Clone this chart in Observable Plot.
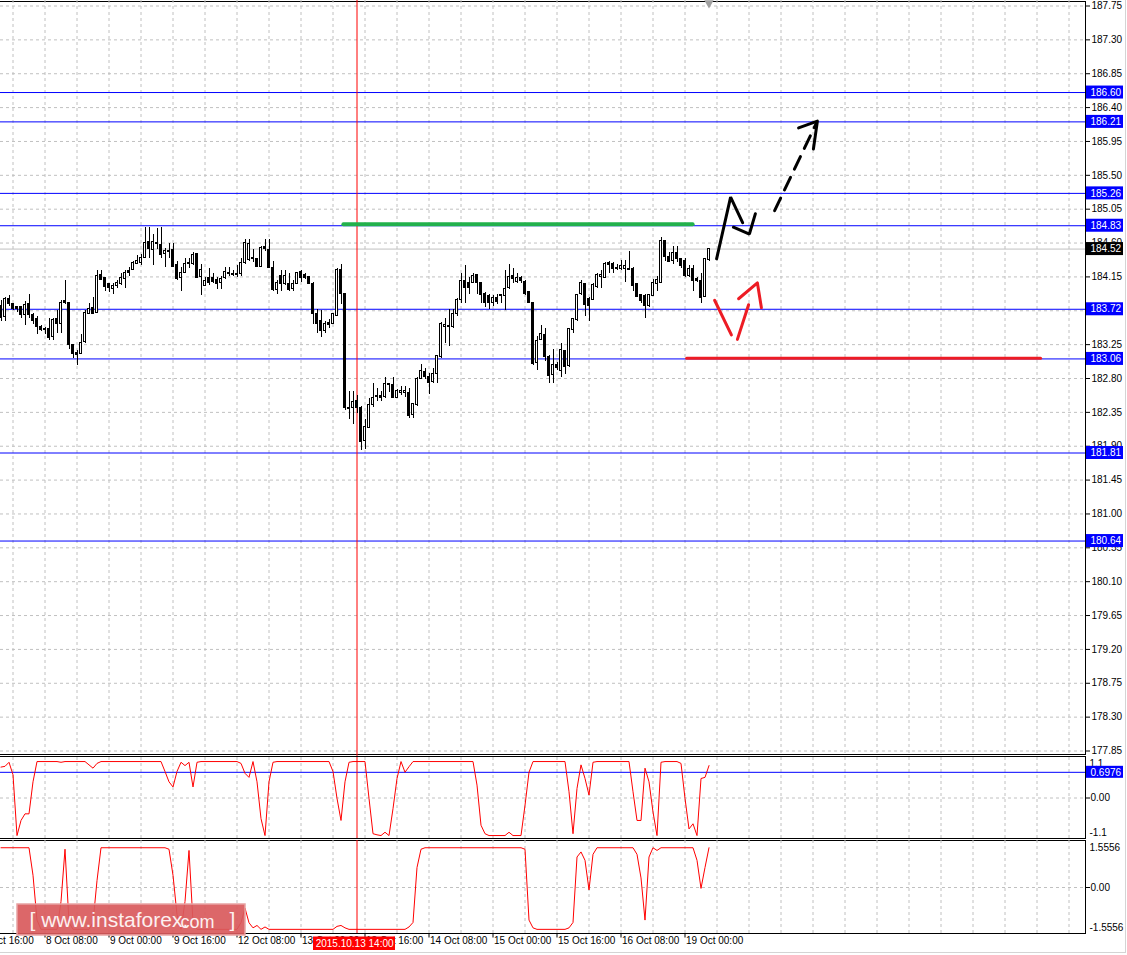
<!DOCTYPE html>
<html>
<head>
<meta charset="utf-8">
<script src="https://cdn.jsdelivr.net/npm/d3@7"></script>
<script src="https://cdn.jsdelivr.net/npm/@observablehq/plot@0.6"></script>
<style>
html,body{margin:0;padding:0;background:#fff;}
#wrap{position:relative;width:1127px;height:955px;overflow:hidden;background:#fff;}
.fr{position:absolute;border:1px solid #000;box-sizing:content-box;}
.pl{position:absolute;left:0;}
.pl svg{display:block;}
</style>
</head>
<body>
<div id="wrap">
  <div class="fr" style="left:-1px;top:1px;width:1085px;height:752px;"></div>
  <div class="fr" style="left:-1px;top:756px;width:1085px;height:81px;"></div>
  <div class="fr" style="left:-1px;top:840px;width:1085px;height:92px;"></div>
  <div style="position:absolute;left:1125px;top:0;width:1px;height:953px;background:#d4d4d4"></div>
  <div style="position:absolute;left:0;top:952px;width:1126px;height:1px;background:#d4d4d4"></div>
  <div class="pl" id="p0" style="top:0"></div>
  <div class="pl" id="p1" style="top:756px"></div>
  <div class="pl" id="p2" style="top:839px"></div>
</div>
<script>
// ---------- DATA (GBP/JPY H1, 7 Oct 21:00 .. 19 Oct 06:00) ----------
const opens = [
183.76,183.62,183.86,183.79,183.75,183.75,183.64,183.79,183.64,183.59,
183.48,183.46,183.46,183.35,183.59,183.52,183.83,183.80,183.25,183.14,
183.13,183.29,183.66,183.74,183.67,184.18,184.14,184.06,183.99,184.03,
184.06,184.12,184.23,184.24,184.32,184.34,184.40,184.61,184.51,184.60,
184.57,184.45,184.48,184.51,184.31,184.14,184.20,184.32,184.32,184.45,
184.15,184.03,184.14,184.14,184.11,184.07,184.14,184.20,184.19,184.18,
184.19,184.34,184.37,184.40,184.39,184.28,184.55,184.51,184.27,183.98,
184.16,184.06,184.06,183.99,184.06,184.22,184.18,184.15,184.06,183.66,
183.56,183.43,183.54,183.52,183.63,184.24,183.92,182.41,182.41,182.50,
182.41,181.97,182.14,182.45,182.57,182.57,182.55,182.73,182.71,182.54,
182.61,182.61,182.61,182.31,182.45,182.79,182.89,182.82,182.75,182.86,
183.09,183.48,183.50,183.48,183.66,183.84,184.10,184.07,184.07,184.18,
184.07,183.92,183.90,183.80,183.87,183.90,183.90,184.00,184.16,184.08,
184.14,184.08,183.95,183.80,183.01,183.31,183.38,183.09,182.85,182.98,
182.90,183.17,182.97,183.44,183.58,183.92,184.06,183.86,183.84,184.02,
184.15,184.14,184.34,184.32,184.27,184.26,184.26,184.26,184.26,184.06,
183.91,183.90,183.76,183.90,184.06,184.07,184.63,184.41,184.36,184.47,
184.39,184.36,184.16,184.26,184.12,184.10,183.88,184.37];
const highs = [
183.83,183.88,183.90,183.80,183.76,183.76,183.82,183.92,183.66,183.62,
183.50,183.48,183.60,183.60,183.70,183.83,184.10,183.80,183.25,183.17,
183.39,183.70,183.80,183.87,184.23,184.24,184.14,184.06,184.06,184.10,
184.20,184.23,184.27,184.36,184.43,184.45,184.80,184.80,184.72,184.79,
184.80,184.53,184.60,184.60,184.36,184.27,184.40,184.40,184.47,184.46,
184.32,184.14,184.26,184.20,184.14,184.16,184.28,184.27,184.23,184.30,
184.40,184.65,184.65,184.52,184.40,184.56,184.65,184.65,184.36,184.10,
184.23,184.23,184.19,184.10,184.20,184.23,184.19,184.16,184.07,183.72,
183.70,183.56,183.59,183.66,184.26,184.32,183.92,182.63,182.63,182.57,
182.43,182.26,182.54,182.74,182.67,182.63,182.81,182.74,182.81,182.66,
182.69,182.69,182.67,182.47,182.81,182.98,182.93,182.86,182.93,183.10,
183.55,183.60,183.72,183.72,183.86,184.19,184.30,184.14,184.19,184.18,
184.07,183.94,183.92,183.90,183.92,183.92,184.23,184.32,184.26,184.19,
184.16,184.10,183.96,183.80,183.36,183.50,183.46,183.10,183.18,183.01,
183.26,183.17,183.47,183.60,183.92,184.10,184.06,183.87,184.06,184.20,
184.23,184.34,184.36,184.34,184.32,184.37,184.37,184.49,184.27,184.06,
183.92,183.92,183.92,184.12,184.15,184.68,184.63,184.47,184.56,184.56,
184.40,184.39,184.30,184.30,184.14,184.19,184.40,184.52];
const lows = [
183.56,183.56,183.76,183.70,183.68,183.60,183.50,183.60,183.52,183.39,
183.43,183.39,183.30,183.31,183.40,183.40,183.79,183.19,183.07,182.97,
183.13,183.27,183.66,183.66,183.66,184.11,183.96,183.94,183.92,184.00,
184.03,183.99,184.16,184.23,184.32,184.30,184.40,184.40,184.30,184.51,
184.40,184.27,184.39,184.27,184.10,183.95,184.19,184.26,184.30,184.13,
183.90,184.02,184.03,184.06,183.98,183.98,184.12,184.16,184.16,184.14,
184.16,184.32,184.36,184.34,184.27,184.27,184.49,184.27,183.96,183.91,
183.96,184.03,183.96,183.96,184.06,184.07,184.12,184.06,183.52,183.40,
183.35,183.40,183.47,183.52,183.63,183.79,182.37,182.26,182.19,182.34,
181.84,181.86,182.13,182.41,182.50,182.50,182.54,182.61,182.53,182.53,
182.58,182.55,182.27,182.27,182.43,182.79,182.79,182.59,182.74,182.73,
183.07,183.26,183.23,183.47,183.63,183.80,183.80,183.92,184.06,183.92,
183.80,183.74,183.72,183.76,183.79,183.80,183.70,183.98,184.06,184.06,
184.06,183.90,183.80,182.97,182.90,183.30,183.03,182.73,182.73,182.90,
182.81,182.85,182.94,183.40,183.56,183.90,183.63,183.56,183.83,184.00,
184.00,184.14,184.20,184.20,184.23,184.23,184.07,184.23,183.96,183.87,
183.80,183.60,183.74,183.90,183.96,184.06,184.36,184.34,184.32,184.34,
184.26,184.14,184.14,183.96,184.07,183.80,183.87,184.36];
const closes = [
183.60,183.86,183.79,183.72,183.72,183.64,183.78,183.64,183.56,183.48,
183.44,183.44,183.34,183.58,183.52,183.80,183.80,183.25,183.13,183.11,
183.27,183.67,183.72,183.66,184.16,184.11,184.02,184.00,184.03,184.07,
184.14,184.20,184.20,184.34,184.36,184.40,184.60,184.52,184.61,184.59,
184.44,184.49,184.49,184.28,184.12,184.20,184.32,184.34,184.44,184.14,
184.24,184.10,184.07,184.08,184.06,184.12,184.22,184.19,184.18,184.19,
184.34,184.60,184.59,184.39,184.28,184.53,184.52,184.27,183.98,184.07,
184.06,184.16,183.98,184.06,184.20,184.14,184.14,184.06,183.66,183.52,
183.43,183.52,183.51,183.66,184.24,183.92,182.41,182.39,182.49,182.41,
181.96,182.15,182.45,182.54,182.55,182.54,182.73,182.71,182.54,182.63,
182.63,182.63,182.30,182.46,182.79,182.90,182.82,182.74,182.86,183.10,
183.52,183.51,183.48,183.66,183.84,184.10,184.00,184.00,184.16,184.07,
183.91,183.80,183.80,183.87,183.82,183.91,183.99,184.15,184.12,184.14,
184.10,183.92,183.80,182.99,183.30,183.39,183.09,182.83,182.98,182.94,
183.18,182.95,183.46,183.59,183.91,184.07,183.78,183.76,184.04,184.18,
184.18,184.32,184.31,184.26,184.26,184.30,184.30,184.24,184.03,183.88,
183.83,183.76,183.91,184.07,184.11,184.63,184.41,184.35,184.47,184.39,
184.30,184.16,184.26,184.10,184.10,183.87,184.39,184.52];

// indicator 1 (upper sub-window), one value per bar
const ind1 = [
0.84,0.86,0.97,0.63,-1.02,-0.61,-0.43,-0.43,0.44,0.99,
0.99,0.99,0.99,0.99,0.99,0.97,0.99,0.99,0.99,0.99,
0.99,0.99,0.90,0.81,0.94,0.99,0.99,0.99,0.99,0.99,
0.99,0.99,0.99,0.99,0.99,0.99,0.99,0.99,0.99,0.99,
0.99,0.72,0.44,0.30,0.72,0.97,0.88,0.97,0.30,0.97,
0.99,0.99,0.99,0.99,0.99,0.99,0.99,0.99,0.99,0.99,
0.94,0.67,0.56,0.99,0.44,-0.56,-1.02,0.44,0.97,0.99,
0.99,0.99,0.99,0.99,0.99,0.99,0.99,0.99,0.99,0.99,
0.99,0.99,0.99,0.72,-0.01,-0.61,0.44,0.97,0.99,0.99,
0.99,0.99,-0.01,-0.97,-1.00,-1.02,-0.93,-1.02,-0.29,0.53,
0.99,0.70,0.85,0.99,0.99,0.99,0.99,0.99,0.99,0.99,
0.99,0.99,0.99,0.99,0.99,0.99,0.99,0.99,0.99,0.35,
-0.74,-0.97,-1.02,-1.02,-1.02,-1.02,-1.02,-0.93,-1.02,-1.02,
-1.02,-0.20,0.70,0.99,0.99,0.99,0.99,0.99,0.99,0.99,
0.99,0.99,0.17,-0.97,0.26,0.90,0.53,0.08,0.97,0.99,
0.99,0.99,0.99,0.99,0.99,0.99,0.99,0.99,0.17,-0.61,
-0.61,0.81,0.44,-0.38,-1.02,0.97,0.99,0.99,0.99,0.99,
0.94,-0.01,-0.84,-0.70,-1.02,0.53,0.56,0.88];
// indicator 2 (lower sub-window)
const ind2 = [
1.33,1.33,1.33,1.33,1.33,1.33,1.33,1.33,0.41,-1.09,
-1.40,-1.40,-1.40,-1.40,-1.40,-0.47,1.28,-1.17,-1.40,-1.40,
-1.40,-1.40,-1.40,-1.17,0.23,1.33,1.33,1.33,1.33,1.33,
1.33,1.33,1.33,1.33,1.33,1.33,1.33,1.33,1.33,1.33,
1.33,1.33,1.28,0.41,-0.91,-1.40,-0.47,1.24,-1.17,-1.40,
-1.40,-1.40,-1.40,-1.40,-1.40,-1.40,-1.40,-1.40,-1.40,-1.40,
-1.17,-0.69,-1.18,-1.35,-1.27,-1.40,-1.32,-1.40,-1.40,-1.40,
-1.40,-1.40,-1.40,-1.40,-1.40,-1.40,-1.40,-1.40,-1.40,-1.40,
-1.40,-1.40,-1.40,-1.40,-1.30,-1.27,-1.35,-1.40,-1.40,-1.40,
-1.40,-1.40,-1.40,-1.40,-1.40,-1.40,-1.40,-1.40,-1.40,-1.40,
-1.40,-1.40,-1.32,-1.17,0.67,1.28,1.33,1.33,1.33,1.33,
1.33,1.33,1.33,1.33,1.33,1.33,1.33,1.33,1.33,1.33,
1.33,1.33,1.33,1.33,1.33,1.33,1.33,1.33,1.33,1.33,
1.33,1.28,-1.09,-1.35,-1.40,-1.40,-1.40,-1.40,-1.40,-1.40,
-1.40,-1.40,-1.35,-1.17,1.02,1.19,0.91,-0.08,1.11,1.33,
1.33,1.33,1.33,1.33,1.33,1.33,1.33,1.33,1.33,1.11,
0.32,-1.09,1.02,1.33,1.24,1.33,1.33,1.33,1.33,1.33,
1.33,1.33,1.33,1.33,0.91,-0.03,0.67,1.33];

const priceTicks = [187.75,187.30,186.85,186.40,185.95,185.50,185.05,184.60,184.15,183.70,183.25,182.80,182.35,181.90,181.45,181.00,180.55,180.10,179.65,179.20,178.75,178.30,177.85];
const levelPrices = [186.60,186.21,185.26,184.83,183.72,183.06,181.81,180.64];
const bidPrice = 184.52;
const timeTickIdx = [-5,11,27,43,59,75,91,107,123,139,155,171];
const timeTickLabels = ["7 Oct 16:00","8 Oct 08:00","9 Oct 00:00","9 Oct 16:00","12 Oct 08:00","13 Oct 00:00","13 Oct 16:00","14 Oct 08:00","15 Oct 00:00","15 Oct 16:00","16 Oct 08:00","19 Oct 00:00"];
const cursorIdx = 89;
const cursorLabel = "2015.10.13 14:00";
const ind1Level = 0.6976;
const ind1Range = [-1.1, 1.1];
const ind2Range = [-1.5556, 1.5556];
// drawn objects (bar index, price)
const greenIdx = [85.6, 172.9], greenPrice = 184.85;
const redLvlIdx = [171.4, 259.9], redLvlPrice = 183.07;
const blackSolidIdx   = [178.9,182.4,185.4, 183.1,187.1,188.6];
const blackSolidPrice = [184.39,185.21,184.87, 184.81,184.72,184.99];
const blackSolidSeg   = [0,0,0, 1,1,1];
const blackDashIdx    = [193.4,203.9];
const blackDashPrice  = [185.03,186.20];
const blackHeadIdx    = [199.4,204.1,203.1];
const blackHeadPrice  = [186.13,186.22,185.85];
const redArrIdx   = [178.4,182.6, 184.1,186.9, 184.4,189.1,190.1];
const redArrPrice = [183.84,183.38, 183.32,183.78, 183.86,184.07,183.74];
const redArrSeg   = [0,0, 1,1, 2,2,2];

// ---------- BUILD ----------
const W = 1127;
const font = "'Liberation Sans', Arial, sans-serif";
const baseStyle = {background:"transparent", overflow:"visible", fontFamily:font, fontSize:"10px", color:"#000"};
const X = {type:"linear", domain:[0,177], range:[0.5,708.5], axis:null};
const grid = {stroke:"#c0c0c0", strokeDasharray:"3,3"};
const gridIdx = d3.range(3, 272, 8);
const bars = opens.map((o,i)=>({k:i,o,h:highs[i],l:lows[i],c:closes[i]}));
const up = bars.filter(d=>d.c>=d.o), dn = bars.filter(d=>d.c<d.o);
const pts = (ks, ps, ss) => ks.map((k,i)=>({k, p:ps[i], s: ss ? ss[i] : 0}));
const boxK1 = 271.375, boxK2 = 280.625;

const mainPx = (750.5-5.5)/(187.75-177.85);
const hh = 6.5/mainPx;
const main = Plot.plot({
  width:W, height:756, marginTop:0, marginBottom:0, marginLeft:0, marginRight:42,
  style: baseStyle,
  x: X,
  y: {domain:[177.85,187.75], range:[750.5,5.5], axis:"right", ticks:priceTicks, tickFormat:d=>d.toFixed(2), tickSize:4, tickPadding:2, label:null},
  marks: [
    Plot.ruleY(priceTicks, grid),
    Plot.ruleX(gridIdx, grid),
    Plot.ruleY([bidPrice], {stroke:"#c0c0c0"}),
    Plot.ruleY(levelPrices, {stroke:"#0000ff"}),
    Plot.ruleX([cursorIdx], {stroke:"#ff0000"}),
    Plot.ruleX(bars, {x:"k", y1:"l", y2:"h", stroke:"#000", shapeRendering:"crispEdges"}),
    Plot.rect(up, {x1:d=>d.k-0.25, x2:d=>d.k+0.25, y1:"o", y2:"c", fill:"#fff", stroke:"#000", shapeRendering:"crispEdges"}),
    Plot.rect(dn, {x1:d=>d.k-0.25, x2:d=>d.k+0.25, y1:"o", y2:"c", fill:"#000", stroke:"#000", shapeRendering:"crispEdges"}),
    Plot.line(pts(greenIdx,[greenPrice,greenPrice]), {x:"k", y:"p", stroke:"#22b14c", strokeWidth:4}),
    Plot.line(pts(redLvlIdx,[redLvlPrice,redLvlPrice]), {x:"k", y:"p", stroke:"#ed1c24", strokeWidth:3}),
    Plot.line(pts(blackSolidIdx,blackSolidPrice,blackSolidSeg), {x:"k", y:"p", z:"s", stroke:"#000", strokeWidth:3, strokeLinejoin:"miter"}),
    Plot.line(pts(blackDashIdx,blackDashPrice), {x:"k", y:"p", stroke:"#000", strokeWidth:3, strokeDasharray:"14,9"}),
    Plot.line(pts(blackHeadIdx,blackHeadPrice), {x:"k", y:"p", stroke:"#000", strokeWidth:3}),
    Plot.line(pts(redArrIdx,redArrPrice,redArrSeg), {x:"k", y:"p", z:"s", stroke:"#ed1c24", strokeWidth:3}),
    Plot.rect(levelPrices, {x1:()=>boxK1, x2:()=>boxK2, y1:d=>d-hh, y2:d=>d+hh, fill:"#0000ff"}),
    Plot.rect([bidPrice], {x1:()=>boxK1, x2:()=>boxK2, y1:d=>d-hh, y2:d=>d+hh, fill:"#000"}),
    Plot.text(levelPrices.concat([bidPrice]), {y:d=>d, text:d=>d.toFixed(2), frameAnchor:"right", dx:5, textAnchor:"start", fill:"#fff"}),
    Plot.dot([177], {x:d=>d, y:()=>187.79, symbol:"triangle", rotate:180, r:3.5, fill:"#a0a0a0", stroke:"none"})
  ]
});
document.getElementById("p0").appendChild(main);

const ppu1 = 81/(ind1Range[1]-ind1Range[0]);
const p1 = Plot.plot({
  width:W, height:83, marginTop:1, marginBottom:1, marginLeft:0, marginRight:42,
  style: baseStyle,
  x: X,
  y: {domain:ind1Range, range:[82,1], axis:"right", ticks:[0], tickFormat:d=>d.toFixed(2), tickSize:4, tickPadding:1, label:null},
  marks: [
    Plot.ruleY([0], grid),
    Plot.ruleX(gridIdx, grid),
    Plot.ruleY([ind1Level], {stroke:"#0000ff"}),
    Plot.ruleX([cursorIdx], {stroke:"#ff0000"}),
    Plot.line(ind1, {x:(d,i)=>i, y:d=>d, stroke:"#ff0000", strokeWidth:1}),
    Plot.text([ind1Range[1]], {y:d=>d, text:d=>String(d), frameAnchor:"right", dx:4, dy:6, textAnchor:"start"}),
    Plot.text([ind1Range[0]], {y:d=>d, text:d=>String(d), frameAnchor:"right", dx:4, dy:-6, textAnchor:"start"}),
    Plot.rect([ind1Level], {x1:()=>boxK1, x2:()=>boxK2, y1:d=>d-6/ppu1, y2:d=>d+6/ppu1, fill:"#0000ff"}),
    Plot.text([ind1Level], {y:d=>d, text:d=>d.toFixed(4), frameAnchor:"right", dx:5, textAnchor:"start", fill:"#fff"})
  ]
});
document.getElementById("p1").appendChild(p1);

const ppu2 = 93/(ind2Range[1]-ind2Range[0]);
const v2 = local => ind2Range[1] - (local-1.5)/ppu2;   // local svg px -> indicator-2 units
const p2 = Plot.plot({
  width:W, height:116, marginTop:1, marginBottom:22, marginLeft:0, marginRight:42,
  style: baseStyle,
  x: X,
  y: {domain:ind2Range, range:[94.5,1.5], axis:"right", ticks:[0], tickFormat:d=>d.toFixed(2), tickSize:4, tickPadding:1, label:null},
  marks: [
    Plot.ruleY([0], grid),
    Plot.ruleX(gridIdx, grid),
    Plot.ruleX([cursorIdx], {stroke:"#ff0000"}),
    Plot.line(ind2, {x:(d,i)=>i, y:d=>d, stroke:"#ff0000", strokeWidth:1}),
    Plot.text([ind2Range[1]], {y:d=>d, text:d=>d.toFixed(4), frameAnchor:"right", dx:4, dy:7, textAnchor:"start"}),
    Plot.text([ind2Range[0]], {y:d=>d, text:d=>d.toFixed(4), frameAnchor:"right", dx:4, dy:-6, textAnchor:"start"}),
    // time axis
    Plot.ruleX(timeTickIdx, {x:d=>d, y1:()=>v2(94.5), y2:()=>v2(98.5), stroke:"#000"}),
    Plot.text(timeTickIdx, {x:d=>d, text:(d,i)=>timeTickLabels[i], frameAnchor:"bottom", dy:10, dx:1, textAnchor:"start"}),
    // cursor date label
    Plot.rect([cursorIdx], {x1:d=>d-10.875, x2:d=>d+9.625, y1:()=>v2(97.5), y2:()=>v2(111), fill:"#ff0000"}),
    Plot.text([cursorIdx], {x:d=>d-0.6, y:()=>v2(104.3), text:()=>cursorLabel, fill:"#fff"}),
    // watermark
    Plot.rect([0], {x1:()=>4.125, x2:()=>61.125, y1:()=>v2(65), y2:()=>v2(96), fill:"#d95a5c", fillOpacity:0.92, stroke:"#e8a3a3", strokeWidth:1.5}),
    Plot.text(["[ www.instaforex."], {x:()=>4.125, y:()=>v2(81), text:d=>d, textAnchor:"start", dx:12, fontSize:21, fill:"#fdf0f0"}),
    Plot.text(["com"], {x:()=>4.125, y:()=>v2(82.5), text:d=>d, textAnchor:"start", dx:163, fontSize:18, fill:"#fdf0f0"}),
    Plot.text(["]"], {x:()=>4.125, y:()=>v2(81), text:d=>d, textAnchor:"start", dx:212, fontSize:21, fill:"#fdf0f0"})
  ]
});
document.getElementById("p2").appendChild(p2);
</script>
</body>
</html>
